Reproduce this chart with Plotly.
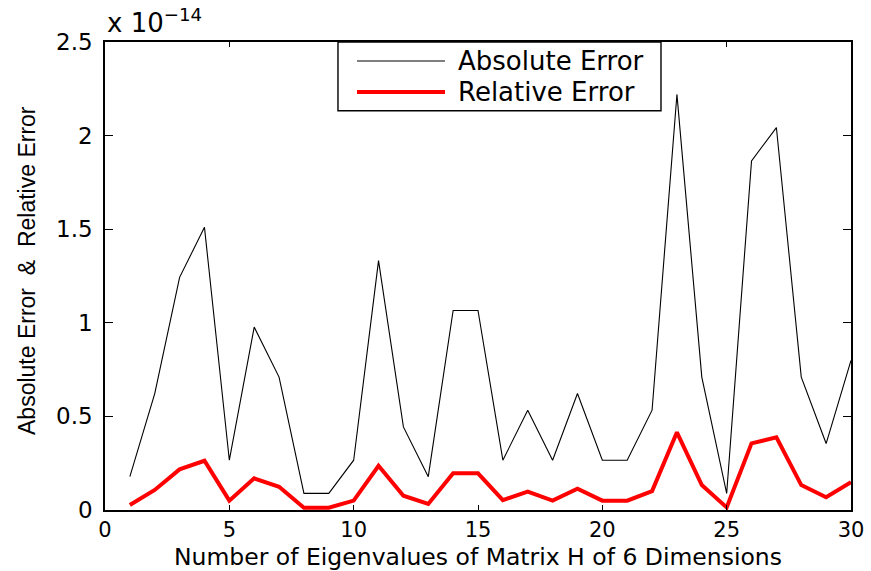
import plotly.graph_objects as go

# Eigenvalue index (1..30)
eig_index = list(range(1, 31))

# Errors, in units of 1e-14
abs_err = [0.178, 0.622, 1.243, 1.510, 0.266, 0.977, 0.710, 0.089, 0.089, 0.266,
           1.332, 0.444, 0.178, 1.066, 1.066, 0.266, 0.533, 0.266, 0.622, 0.266,
           0.266, 0.533, 2.220, 0.710, 0.089, 1.865, 2.043, 0.710, 0.355, 0.799]
rel_err = [0.027, 0.107, 0.217, 0.263, 0.050, 0.169, 0.124, 0.012, 0.012, 0.050,
           0.236, 0.076, 0.032, 0.196, 0.196, 0.053, 0.098, 0.050, 0.114, 0.050,
           0.050, 0.101, 0.415, 0.133, 0.014, 0.356, 0.388, 0.133, 0.068, 0.148]

series_names = ["Absolute Error", "Relative Error"]
x_ticks = [0, 5, 10, 15, 20, 25, 30]
y_ticks = [0, 0.5, 1, 1.5, 2, 2.5]
y_tick_text = ["0", "0.5", "1", "1.5", "2", "2.5"]

WIDE = "DejaVu Sans"
ARIAL = "Liberation Sans, Arial"

fig = go.Figure()
fig.add_trace(go.Scatter(x=eig_index, y=abs_err, mode="lines", name=series_names[0],
                         line=dict(color="black", width=1.1), showlegend=False))
fig.add_trace(go.Scatter(x=eig_index, y=rel_err, mode="lines", name=series_names[1],
                         line=dict(color="#ff0000", width=4), showlegend=False))

axis_common = dict(showgrid=False, zeroline=False, showline=True, linecolor="black",
                   linewidth=1.6, mirror="ticks", ticks="inside", tickcolor="black",
                   tickwidth=1, automargin=False)

fig.update_xaxes(range=[0, 30], tickvals=x_ticks, ticklen=5, ticklabelstandoff=0,
                 tickfont=dict(family=WIDE, size=21, color="black"), **axis_common)
fig.update_yaxes(range=[0, 2.5], tickvals=y_ticks, ticktext=y_tick_text, ticklen=8,
                 ticklabelstandoff=6, tickfont=dict(family=WIDE, size=23, color="black"),
                 **axis_common)

# Hand-built legend box in the upper middle of the axes
box = dict(x0=0.3123, x1=0.7453, y0=0.8532, y1=1.0)
rows = [0.9594, 0.8932]
styles = [dict(color="black", width=1.1), dict(color="#ff0000", width=4)]
fig.add_shape(type="rect", xref="paper", yref="paper", **box,
              line=dict(color="black", width=1.4), fillcolor="white", layer="above")
for name, yrow, st in zip(series_names, rows, styles):
    fig.add_shape(type="line", xref="paper", yref="paper", x0=0.3378, x1=0.4558,
                  y0=yrow, y1=yrow, line=st, layer="above")
    fig.add_annotation(xref="paper", yref="paper", x=0.4705, y=yrow, text=name,
                       showarrow=False, xanchor="left", yanchor="middle",
                       font=dict(family=WIDE, size=26, color="black"))

# Scale factor above the y axis
fig.add_annotation(xref="paper", yref="paper", x=0.0, y=1.004, text="x 10<sup>\u221214</sup>",
                   showarrow=False, xanchor="left", yanchor="bottom",
                   font=dict(family=WIDE, size=26, color="black"))

# Axis titles
fig.add_annotation(xref="paper", yref="paper", x=0.5, y=-0.1005,
                   text="Number of Eigenvalues of Matrix H of 6 Dimensions",
                   showarrow=False, xanchor="center", yanchor="middle",
                   font=dict(family=WIDE, size=23.5, color="black"))
fig.add_annotation(xref="paper", yref="paper", x=-0.1046, y=0.5128,
                   text="Absolute Error\u00a0\u00a0&\u00a0\u00a0Relative Error",
                   textangle=-90, showarrow=False, xanchor="center", yanchor="middle",
                   font=dict(family=ARIAL, size=23, color="black"))

fig.update_layout(width=871, height=571, margin=dict(l=105, r=20, t=42, b=61, pad=0),
                  plot_bgcolor="white", paper_bgcolor="white")

fig.write_html("out.html")
